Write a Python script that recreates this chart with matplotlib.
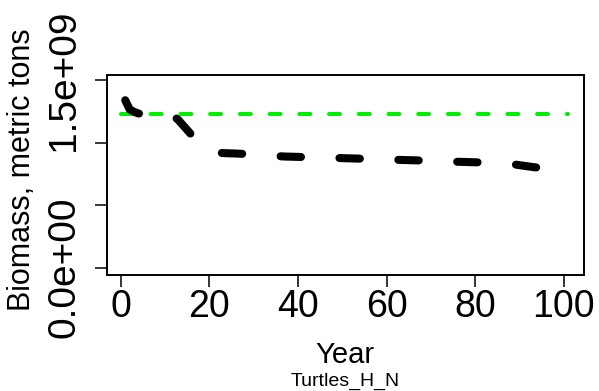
import numpy as np
import matplotlib
matplotlib.use("Agg")
import matplotlib.pyplot as plt

plt.rcParams['font.family'] = ['Liberation Sans', 'DejaVu Sans']
plt.rcParams['lines.scale_dashes'] = False

# biomass trajectory, metric tons, years 1..100
years = list(range(1, 101))
biomass = [1.338e9, 1.265e9, 1.245e9, 1.232e9, 1.228e9, 1.225e9, 1.222e9, 1.220e9, 1.218e9, 1.216e9,
           1.213e9, 1.208e9, 1.180e9, 1.140e9, 1.100e9, 1.060e9, 1.020e9, 0.985e9, 0.955e9, 0.935e9,
           0.922e9, 0.918e9, 0.916e9, 0.914e9, 0.913e9, 0.912e9, 0.910e9, 0.909e9, 0.907e9, 0.905e9,
           0.903e9, 0.901e9, 0.899e9, 0.897e9, 0.893e9, 0.890e9, 0.888e9, 0.887e9, 0.886e9, 0.885e9,
           0.884e9, 0.883e9, 0.882e9, 0.881e9, 0.880e9, 0.879e9, 0.878e9, 0.877e9, 0.876e9, 0.875e9,
           0.874e9, 0.873e9, 0.872e9, 0.871e9, 0.870e9, 0.869e9, 0.868e9, 0.867e9, 0.866e9, 0.865e9,
           0.863e9, 0.862e9, 0.861e9, 0.860e9, 0.859e9, 0.858e9, 0.857e9, 0.856e9, 0.855e9, 0.854e9,
           0.853e9, 0.851e9, 0.850e9, 0.849e9, 0.848e9, 0.846e9, 0.845e9, 0.844e9, 0.843e9, 0.842e9,
           0.841e9, 0.840e9, 0.838e9, 0.836e9, 0.834e9, 0.832e9, 0.830e9, 0.827e9, 0.824e9, 0.819e9,
           0.814e9, 0.809e9, 0.804e9, 0.800e9, 0.797e9, 0.795e9, 0.793e9, 0.791e9, 0.789e9, 0.787e9]

# reference level
ref_years = [0, 101]
ref_level = [1.224e9, 1.224e9]

xticks = [0, 20, 40, 60, 80, 100]
yticks = [0, 0.5e9, 1.0e9, 1.5e9]
ytick_labels = ['0.0e+00', '', '', '1.5e+09']

fig = plt.figure(figsize=(5.99, 3.91), dpi=100)
ax = fig.add_axes([0.178, 0.2967, 0.797, 0.5113])

ax.plot(ref_years, ref_level, color='#00ee00', lw=2.9, dashes=(7.9, 13.5),
        solid_capstyle='round', dash_capstyle='round')
ax.plot(years, biomass, color='black', lw=5.8, dashes=(14.7, 27.7),
        solid_capstyle='round', dash_capstyle='round')

ax.set_xlim(-3.2, 104.6)
ax.set_ylim(-0.059e9, 1.539e9)

ax.set_xticks(xticks)
ax.set_xticklabels([str(t) for t in xticks])
ax.set_yticks(yticks)
ax.set_yticklabels(ytick_labels, rotation=90, va='center')

ax.tick_params(axis='both', length=8.6, width=1.1, direction='out')
ax.tick_params(axis='x', pad=1.5, labelsize=27)
ax.tick_params(axis='y', pad=9, labelsize=28)
for s in ax.spines.values():
    s.set_linewidth(1.4)

fig.text(0.5 * (0.178 + 0.975), 1 - 355 / 391, 'Year', ha='center', va='center', fontsize=21)
fig.text(0.5 * (0.178 + 0.975), 1 - 381 / 391, 'Turtles_H_N', ha='center', va='center', fontsize=14)
fig.text(22 / 599, 1 - 170 / 391, 'Biomass, metric tons', rotation=90, ha='center', va='center', fontsize=22)

fig.savefig('out.png', dpi=100)
